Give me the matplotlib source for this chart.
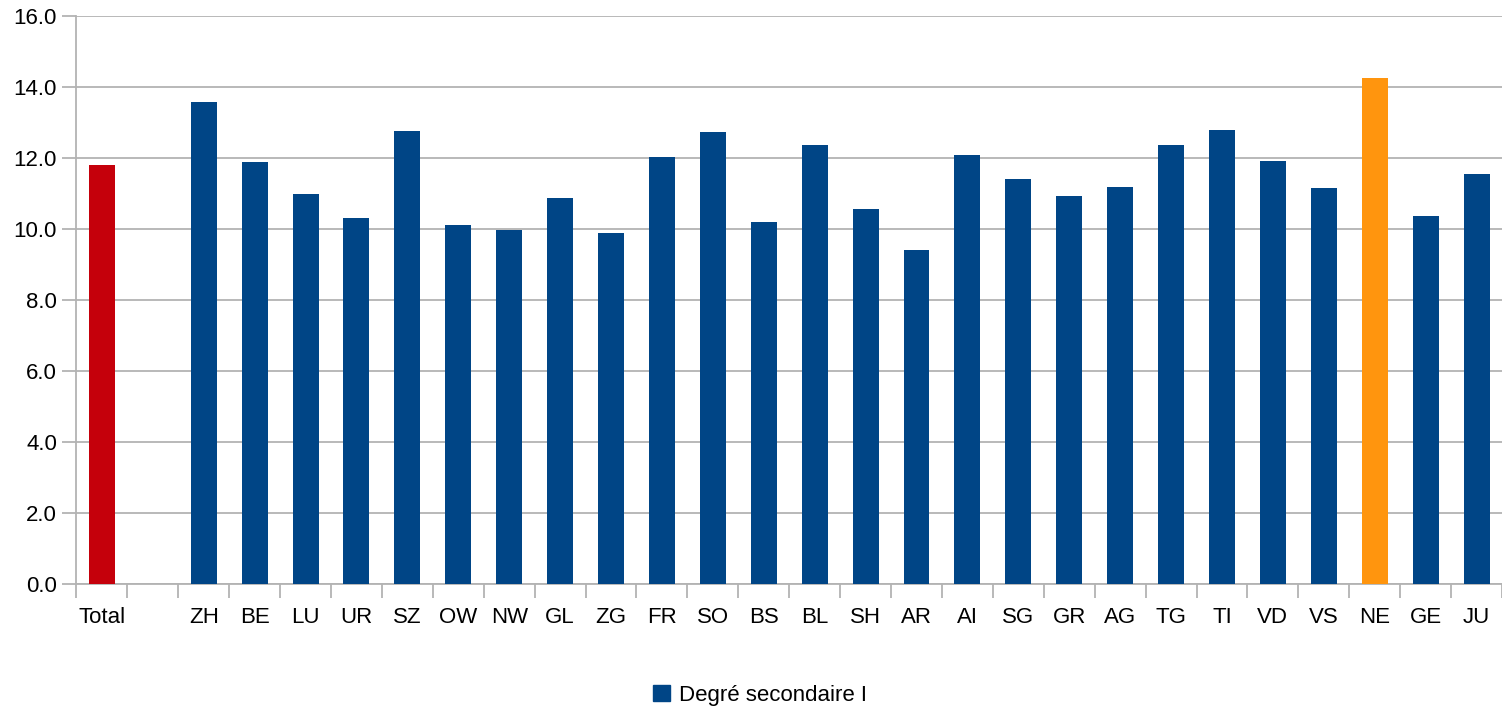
import matplotlib.pyplot as plt
import numpy as np
from matplotlib.patches import Patch

plt.rcParams['font.family'] = ['Liberation Sans', 'DejaVu Sans']

############################ data ############################
labels = ['Total', '', 'ZH', 'BE', 'LU', 'UR', 'SZ', 'OW', 'NW', 'GL', 'ZG',
          'FR', 'SO', 'BS', 'BL', 'SH', 'AR', 'AI', 'SG', 'GR', 'AG', 'TG',
          'TI', 'VD', 'VS', 'NE', 'GE', 'JU']
values = [11.81, np.nan, 13.59, 11.90, 10.99, 10.32, 12.77, 10.12, 9.98, 10.88,
          9.90, 12.04, 12.74, 10.21, 12.37, 10.57, 9.41, 12.09, 11.42, 10.94,
          11.19, 12.37, 12.80, 11.92, 11.16, 14.26, 10.37, 11.56]
series_name = 'Degré secondaire I'

blue = '#004586'
red = '#c5000b'
orange = '#ff950e'
grey = '#b3b3b3'

colors = [blue] * len(labels)
colors[labels.index('Total')] = red
colors[labels.index('NE')] = orange

############################ plot ############################
fig = plt.figure(figsize=(15.02, 7.11), dpi=100)
ax = fig.add_axes([0.0509, 0.1782, 0.9491, 0.7988])

x = np.arange(len(labels))
ax.bar(x, np.nan_to_num(values), width=0.51, color=colors, zorder=3)

ax.set_xlim(-0.5, len(labels) - 0.5)
ax.set_ylim(0, 16)
ax.set_yticks(np.arange(0, 16.1, 2))
ax.set_yticklabels(['%.1f' % v for v in np.arange(0, 16.1, 2)])
ax.yaxis.grid(True, color=grey, linewidth=1.3, zorder=0)

ax.set_xticks(x)
ax.set_xticklabels(labels)
ax.set_xticks(np.arange(-0.5, len(labels), 1), minor=True)
ax.tick_params(axis='x', which='major', length=0, pad=16, labelsize=16)
ax.tick_params(axis='x', which='minor', length=10, width=1.3, color=grey)
ax.tick_params(axis='y', length=10, width=1.3, color=grey, labelsize=16, pad=4)

for s in ['top', 'right']:
    ax.spines[s].set_visible(False)
for s in ['left', 'bottom']:
    ax.spines[s].set_color(grey)
    ax.spines[s].set_linewidth(1.3)

handle = Patch(facecolor=blue, edgecolor=blue)
fig.legend([handle], [series_name], loc='center', bbox_to_anchor=(0.506, 0.0225),
           frameon=False, fontsize=16, handlelength=0.75, handleheight=0.75,
           handletextpad=0.4)

fig.savefig('out.png', dpi=100)
